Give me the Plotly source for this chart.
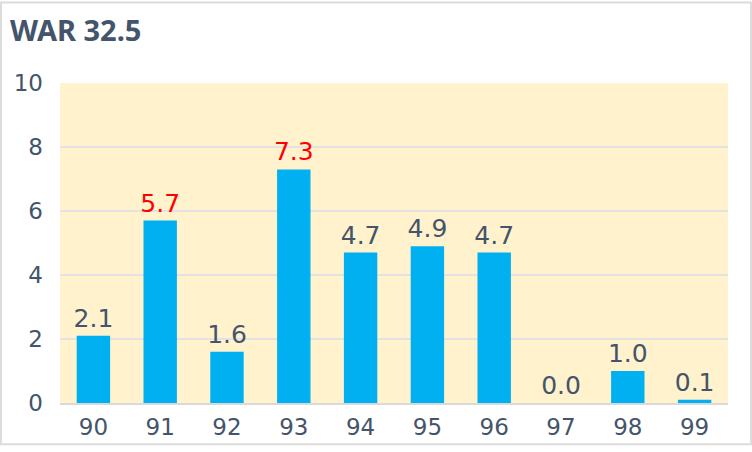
import plotly.graph_objects as go

# season (last two digits) and WAR per season
seasons = ['90', '91', '92', '93', '94', '95', '96', '97', '98', '99']
war = [2.1, 5.7, 1.6, 7.3, 4.7, 4.9, 4.7, 0.0, 1.0, 0.1]
highlight = ['91', '93']
title_text = 'WAR 32.5'

text_dark = '#44546a'
label_colors = ['#ff0000' if s in highlight else text_dark for s in seasons]

W, H = 752, 452
L, R, T, B = 60, 24, 83, 43
pw, ph = W - L - R, H - T - B

fig = go.Figure()
fig.add_trace(go.Bar(
    x=seasons, y=war,
    marker=dict(color='#00b0f0', line=dict(width=0)),
    width=0.5,
    text=['{:.1f}'.format(v) for v in war],
    textposition='outside',
    constraintext='none',
    cliponaxis=False,
    textfont=dict(size=25, color=label_colors, family='DejaVu Sans'),
))

fig.update_layout(
    width=W, height=H,
    margin=dict(l=L, r=R, t=T, b=B),
    paper_bgcolor='white',
    plot_bgcolor='#fff2cc',
    showlegend=False,
    font=dict(family='DejaVu Sans', color=text_dark),
    title=dict(text='<b>' + title_text + '</b>', x=10 / W, xanchor='left',
               y=1 - 31 / H, yanchor='middle',
               font=dict(size=29, color=text_dark, family='Noto Sans')),
    bargap=0.5,
)
fig.update_xaxes(type='category', showgrid=False, showline=True, linecolor='#d9d9d9',
                 linewidth=2, ticks='', ticklabelstandoff=2,
                 tickfont=dict(size=23, color=text_dark))
fig.update_yaxes(range=[0, 10], dtick=2, showgrid=True, gridcolor='#e3e3e3', gridwidth=2,
                 zeroline=False, ticks='', ticklabelstandoff=16,
                 tickfont=dict(size=23, color=text_dark))

# outer frame of the picture
fig.add_shape(type='rect', xref='paper', yref='paper',
              x0=(1 - L) / pw, x1=(W - 1 - L) / pw,
              y0=-(B - 1) / ph, y1=(H - 1 - B) / ph,
              line=dict(color='#dcdcdc', width=2), fillcolor='rgba(0,0,0,0)', layer='above')

fig.write_html('out.html', config={'displayModeBar': False},
               post_script="document.body.style.margin='0';")
